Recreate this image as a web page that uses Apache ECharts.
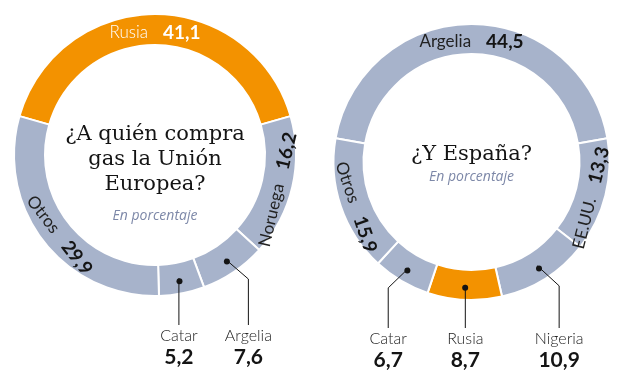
<!DOCTYPE html>
<html><head><meta charset="utf-8">
<script src="https://cdn.jsdelivr.net/npm/echarts@6/dist/echarts.min.js"></script>
<style>html,body{margin:0;padding:0;background:#fff}#c{width:625px;height:382px}</style>
</head><body><div id="c"></div>
<script>
const euCategories = ['Rusia', 'Noruega', 'Argelia', 'Catar', 'Otros'];
const euValues = [41.1, 16.2, 7.6, 5.2, 29.9];
const esCategories = ['Argelia', 'EE.UU.', 'Nigeria', 'Rusia', 'Catar', 'Otros'];
const esValues = [44.5, 13.3, 10.9, 8.7, 6.7, 15.9];
const euTitle = '¿A quién compra\ngas la Unión\nEuropea?';
const esTitle = '¿Y España?';
const subtitle = 'En porcentaje';

const ORANGE = '#f39200', GRAY = '#a7b3cb', INK = '#141414';
const SANS = 'Lato', SERIF = 'DejaVu Serif';
const SMALL = 12; // slices below this value get an external label
const fmt = v => String(v).replace('.', ',');

function buildSeries(cats, vals, center, rIn, rOut, labelTop) {
  const total = vals.reduce((a, b) => a + b, 0);
  const start = 90 + vals[0] / total * 180;
  const mid = (rIn + rOut) / 2;
  const main = {
    type: 'pie', center, radius: [rIn, rOut], startAngle: start, clockwise: true, z: 2,
    avoidLabelOverlap: false, silent: true, emphasis: { disabled: true },
    itemStyle: { borderColor: '#fff', borderWidth: 2 },
    labelLine: { show: false },
    labelLayout: params => {
      if (vals[params.dataIndex] < SMALL) return {};
      const r = params.labelRect;
      const lx = r.x + r.width / 2 - center[0], ly = r.y + r.height / 2 - center[1];
      const d = Math.sqrt(lx * lx + ly * ly) || 1;
      return { dx: -lx / d * 6, dy: -ly / d * 6 };
    },
    data: cats.map((c, i) => {
      const hl = c === 'Rusia';
      const small = vals[i] < SMALL;
      return {
        name: c, value: vals[i],
        itemStyle: { color: hl ? ORANGE : GRAY },
        label: small ? {
          show: true, position: 'inside', rotate: 0, formatter: '{d|}',
          rich: { d: { width: 6, height: 6, borderRadius: 3, backgroundColor: INK } }
        } : {
          show: true, position: 'inside', rotate: 'tangential',
          formatter: '{n|' + c + '}{v|' + fmt(vals[i]) + '}',
          rich: {
            n: { fontFamily: SANS, fontSize: 17, fontWeight: hl ? 300 : 'normal', color: hl ? '#fff' : '#222' },
            v: { fontFamily: SANS, fontSize: 19, fontWeight: 'bold', color: hl ? '#fff' : INK, padding: [0, 0, 0, 15] }
          }
        }
      };
    })
  };
  const ext = {
    type: 'pie', center, radius: [0, mid], startAngle: start, clockwise: true, z: 3,
    avoidLabelOverlap: false, silent: true, emphasis: { disabled: true },
    itemStyle: { color: 'rgba(0,0,0,0)', borderWidth: 0 },
    label: {
      show: true, position: 'outside',
      formatter: p => '{n|' + p.name + '}\n{v|' + fmt(p.value) + '}',
      rich: {
        n: { fontFamily: SANS, fontSize: 16, fontWeight: 300, color: '#222', lineHeight: 20, align: 'center' },
        v: { fontFamily: SANS, fontSize: 21, fontWeight: 'bold', color: INK, lineHeight: 22, align: 'center' }
      }
    },
    labelLine: { show: true, length: 10, length2: 10, lineStyle: { color: INK, width: 1 } },
    labelLayout: params => {
      if (!(vals[params.dataIndex] < SMALL) || !params.labelLinePoints) return {};
      const p0 = params.labelLinePoints[0];
      const dx = p0[0] - center[0];
      const shift = Math.abs(dx) > 40 ? dx * 0.33 : 0;
      const tx = p0[0] + shift;
      const bendY = shift ? p0[1] + 20 : p0[1];
      return {
        x: tx, y: labelTop, align: 'center', verticalAlign: 'top',
        labelLinePoints: [p0, [tx, bendY], [tx, labelTop - 1]]
      };
    },
    data: cats.map((c, i) => ({
      name: c, value: vals[i],
      label: { show: vals[i] < SMALL },
      labelLine: { show: vals[i] < SMALL }
    }))
  };
  return [main, ext];
}

const titleStyle = { fontFamily: SERIF, fontSize: 21, lineHeight: 25, fontWeight: 'normal', color: INK };
const subStyle = { fontFamily: 'Open Sans', fontSize: 14, fontStyle: 'italic', fontWeight: 'normal', color: '#7d88a8', lineHeight: 14 };

const chart = echarts.init(document.getElementById('c'), null, { renderer: 'canvas' });
chart.setOption({
  backgroundColor: '#fff',
  animation: false,
  title: [
    { text: euTitle, subtext: subtitle, left: 155, top: 122, textAlign: 'center', padding: 0, itemGap: 12,
      textStyle: titleStyle, subtextStyle: subStyle },
    { text: esTitle, subtext: subtitle, left: 471.5, top: 142, textAlign: 'center', padding: 0, itemGap: 3,
      textStyle: titleStyle, subtextStyle: subStyle }
  ],
  series: [
    ...buildSeries(euCategories, euValues, [155, 155], 110, 141, 326),
    ...buildSeries(esCategories, esValues, [471.5, 162], 108, 138, 329)
  ]
});
</script></body></html>
